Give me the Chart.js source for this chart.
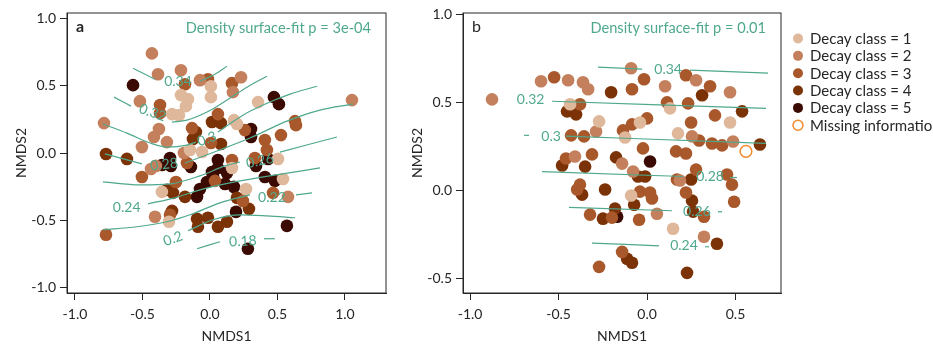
<!DOCTYPE html>
<html>
<head>
<meta charset="utf-8">
<script src="https://cdn.jsdelivr.net/npm/chart.js@4.4.1/dist/chart.umd.min.js"></script>
<style>
  html, body { margin: 0; padding: 0; background: #fff; overflow: hidden; }
  #chartA { position: absolute; left: 0; top: 0; }
  #chartB { position: absolute; left: 396px; top: 0; }
</style>
</head>
<body>
<canvas id="chartA" width="400" height="345"></canvas>
<canvas id="chartB" width="537" height="345"></canvas>
<script>
const FONT = "Lato, 'Open Sans', sans-serif";
const TEAL = "#4fa88d";
const INK = "#262626";

const classLabels = ["Decay class = 1", "Decay class = 2", "Decay class = 3", "Decay class = 4", "Decay class = 5"];
const missingLabel = "Missing information";
const classColors = ["#dfb89b", "#c4805c", "#a8582a", "#7b3206", "#3b0a02"];
const missingColor = "#f28a2e";

const xTicksA = [-1, -0.5, 0, 0.5, 1];
const yTicksA = [-1, -0.5, 0, 0.5, 1];
const xTicksB = [-1, -0.5, 0, 0.5];
const yTicksB = [-0.5, 0, 0.5, 1];

const noteA = "Density surface-fit p = 3e-04";
const noteB = "Density surface-fit p = 0.01";

// panel a, [NMDS1, NMDS2] per decay class
const a1 = [[0.007,0.496],[0.007,0.415],[-0.215,0.43],[-0.163,0.40],[-0.178,0.348],[-0.281,0.289],[-0.23,0.281],
  [0.178,0.244],[0.2,0.215],[0.356,0.378],[-0.059,0.007],[-0.148,0.022],[-0.356,-0.289],[-0.304,-0.511],
  [0.163,-0.111],[0.504,-0.044],[0.541,-0.193],[0.267,-0.267]];
const a2 = [[-0.43,0.74],[-0.385,0.585],[-0.215,0.615],[-0.074,0.541],[0.17,0.452],[0.23,0.563],[-0.519,0.385],
  [-0.785,0.222],[-0.378,0.178],[-0.415,0.119],[-0.319,0.081],[-0.504,0.044],[1.052,0.393],[-0.193,0.0],
  [-0.407,-0.474],[0.578,-0.326],[-0.437,-0.119],[-0.4,-0.096]];
const a3 = [[-0.185,0.511],[-0.015,0.548],[0.163,0.519],[-0.37,0.356],[-0.37,0.296],[-0.133,0.185],[0.059,0.289],
  [0.259,0.17],[0.63,0.237],[0.637,0.207],[0.526,0.133],[0.407,0.096],[0.422,0.022],[0.007,0.074],[-0.17,-0.074],
  [0.037,-0.207],[-0.252,-0.215],[-0.296,-0.459],[-0.77,-0.607],[0.163,-0.052],[0.333,-0.037],[0.244,-0.356],
  [0.467,-0.296],[-0.504,-0.178]];
const a4 = [[-0.104,0.156],[-0.126,0.104],[0.015,0.23],[0.081,0.222],[0.081,0.067],[-0.77,-0.007],[-0.615,-0.044],
  [-0.319,-0.274],[-0.274,-0.296],[-0.185,-0.326],[-0.281,-0.43],[-0.096,-0.489],[-0.089,-0.548],[-0.015,-0.481],
  [0.059,-0.548],[0.126,-0.511],[0.2,-0.333],[0.289,-0.415]];
const a5 = [[-0.57,0.504],[0.304,0.178],[0.304,0.119],[0.474,0.415],[0.511,0.363],[-0.356,-0.089],[-0.296,-0.037],
  [-0.141,-0.104],[0.059,-0.052],[0.059,-0.111],[0.015,-0.141],[0.022,-0.17],[0.126,-0.148],[-0.022,-0.215],
  [-0.074,-0.267],[-0.096,-0.326],[0.43,-0.044],[0.341,-0.096],[0.407,-0.178],[0.481,-0.207],[0.178,-0.252],
  [0.111,-0.23],[0.193,-0.437],[0.57,-0.541],[0.281,-0.711],[-0.289,-0.096]];

// panel b
const b1 = [[-0.435,0.489],[-0.271,0.392],[-0.04,0.386],[0.13,0.466],[0.469,0.386],[-0.124,0.301],[0.175,0.324],
  [-0.09,-0.028],[0.147,-0.216]];
const b2 = [[-0.876,0.517],[-0.599,0.619],[-0.446,0.625],[-0.362,0.614],[-0.333,0.574],[-0.09,0.693],[0.102,0.591],
  [0.277,0.625],[0.469,0.557],[-0.288,0.335],[0.254,0.307],[0.486,0.278],[-0.407,0.193],[-0.141,0.153],
  [-0.079,0.108],[0.056,-0.131],[0.322,-0.261],[0.186,0.057]];
const b3 = [[-0.525,0.642],[-0.085,0.574],[-0.017,0.631],[0.22,0.653],[0.356,0.591],[-0.379,0.489],[-0.085,0.375],
  [0.0,0.409],[0.113,0.5],[0.232,0.494],[0.249,0.386],[0.384,0.426],[-0.429,0.313],[-0.356,0.307],[-0.136,0.341],
  [-0.023,0.239],[0.294,0.284],[0.367,0.267],[0.424,0.256],[-0.458,0.182],[-0.311,0.205],[0.164,0.222],[0.22,0.21],
  [0.277,0.119],[0.452,0.091],[-0.379,0.034],[-0.395,0.006],[-0.04,-0.006],[0.017,-0.011],[0.028,-0.045],
  [-0.198,-0.153],[-0.322,-0.136],[-0.045,-0.165],[-0.141,-0.347],[-0.271,-0.432],[0.169,0.063],[0.22,-0.011],
  [0.322,-0.148],[0.48,0.034],[0.492,-0.063]];
const b4 = [[-0.203,0.557],[0.311,0.54],[-0.452,0.449],[-0.401,0.432],[0.537,0.449],[0.638,0.261],[-0.48,0.142],
  [-0.35,0.136],[-0.175,0.188],[-0.051,0.08],[-0.011,0.08],[-0.367,-0.023],[-0.237,0.006],[-0.073,-0.08],
  [-0.181,-0.102],[-0.249,-0.159],[-0.113,-0.386],[-0.085,-0.409],[0.226,-0.466],[0.395,-0.301],[0.249,0.063],
  [0.254,-0.057],[0.26,-0.119]];
const b5 = [[0.017,0.165],[-0.169,-0.148]];
const bMissing = [[0.559,0.222]];

// fitted density surface contours (segments broken where labels sit)
const aContourLines = [
  [[-0.57,0.63],[-0.407,0.548]],
  [[-0.074,0.533],[0.037,0.585],[0.126,0.644]],
  [[-0.711,0.415],[-0.585,0.348]],
  [[-0.281,0.23],[-0.17,0.244],[-0.022,0.304],[0.126,0.393],[0.274,0.489],[0.422,0.57]],
  [[-0.793,0.215],[-0.615,0.148],[-0.444,0.074],[-0.319,0.044],[-0.17,0.059],[-0.104,0.081]],
  [[0.059,0.156],[0.244,0.281],[0.393,0.356],[0.593,0.437],[0.793,0.496]],
  [[-0.778,-0.007],[-0.504,-0.081]],
  [[-0.185,-0.074],[0.052,0.015],[0.296,0.111],[0.57,0.237],[0.815,0.319],[1.059,0.363]],
  [[-0.793,-0.215],[-0.519,-0.237],[-0.296,-0.23],[-0.074,-0.17],[0.111,-0.096],[0.222,-0.067]],
  [[0.519,0.007],[0.941,0.119]],
  [[-0.459,-0.378],[-0.259,-0.333],[-0.074,-0.274],[0.148,-0.222],[0.444,-0.17],[0.815,-0.111]],
  [[-0.793,-0.57],[-0.541,-0.548],[-0.319,-0.511],[-0.148,-0.459],[0.074,-0.37],[0.296,-0.311]],
  [[0.637,-0.311],[0.756,-0.296]],
  [[-0.163,-0.578],[0.022,-0.496],[0.222,-0.459],[0.422,-0.467],[0.63,-0.481]],
  [[-0.096,-0.711],[0.074,-0.659]],
  [[0.4,-0.637],[0.481,-0.637]]
];
const aContourLabels = [
  [-0.237, 0.533, "0.34", 0], [-0.426, 0.3, "0.32", 20], [-0.022, 0.104, "0.3", -20],
  [-0.34, -0.085, "0.28", -6], [0.37, -0.059, "0.26", -12], [-0.617, -0.404, "0.24", 0],
  [0.459, -0.33, "0.22", 0], [-0.274, -0.637, "0.2", -20], [0.244, -0.656, "0.18", -3]
];

const bContourLines = [
  [[-0.277,0.699],[-0.028,0.688]],
  [[0.243,0.682],[0.684,0.665]],
  [[-0.537,0.506],[0.672,0.466]],
  [[-0.695,0.313],[-0.667,0.313]],
  [[-0.458,0.309],[0.672,0.267]],
  [[-0.593,0.108],[0.203,0.08]],
  [[0.469,0.074],[0.508,0.074]],
  [[-0.441,-0.095],[0.141,-0.114]],
  [[0.401,-0.12],[0.424,-0.12]],
  [[-0.311,-0.297],[0.068,-0.313]],
  [[0.328,-0.318],[0.35,-0.318]]
];
const bContourLabels = [
  [0.119, 0.688, "0.34", 0], [-0.658, 0.517, "0.32", 0], [-0.542, 0.307, "0.3", 0],
  [0.356, 0.08, "0.28", 0], [0.282, -0.119, "0.26", 0], [0.209, -0.313, "0.24", 0]
];

const toXY = (pts) => pts.map(([x, y]) => ({ x, y }));

function buildDatasets(groups, missing, lines) {
  const sets = groups.map((pts, i) => ({
    label: classLabels[i],
    data: toXY(pts),
    pointRadius: 6.3,
    pointBackgroundColor: classColors[i],
    pointBorderWidth: 0,
    order: 1,
    inLegend: true
  }));
  if (missing) {
    sets.push({
      label: missingLabel,
      data: toXY(missing),
      pointRadius: 5.8,
      pointBackgroundColor: "rgba(0,0,0,0)",
      pointBorderColor: missingColor,
      pointBorderWidth: 1.5,
      order: 1,
      inLegend: true,
      hollow: true
    });
  }
  lines.forEach((seg) => {
    sets.push({
      data: toXY(seg),
      showLine: true,
      pointRadius: 0,
      borderColor: TEAL,
      borderWidth: 1.2,
      cubicInterpolationMode: "monotone",
      order: 0
    });
  });
  return sets;
}

function axis(min, max, ticks, title, horizontal) {
  return {
    type: "linear",
    min: min,
    max: max,
    afterBuildTicks: (s) => { s.ticks = ticks.map((v) => ({ value: v })); },
    afterFit: (s) => { if (horizontal) s.height = 52; else s.width = 67; },
    ticks: {
      callback: (v) => v.toFixed(1),
      color: INK,
      font: { family: FONT, size: 14 },
      padding: horizontal ? 6 : 4,
      maxRotation: 0,
      autoSkip: false
    },
    grid: { drawOnChartArea: false, drawTicks: true, tickLength: 7, color: INK, lineWidth: 1 },
    border: { display: true, color: INK, width: 1 },
    title: {
      display: true,
      text: title,
      color: INK,
      font: { family: FONT, size: 14 },
      padding: horizontal ? { top: 0, bottom: 0 } : { top: 12.6, bottom: 0 }
    }
  };
}

const framePlugin = {
  id: "frame",
  afterDraw(chart) {
    const { ctx, chartArea: a } = chart;
    ctx.save();
    ctx.strokeStyle = INK;
    ctx.lineWidth = 1;
    ctx.strokeRect(a.left, a.top, a.right - a.left, a.bottom - a.top);
    ctx.restore();
  }
};

const contourLabelPlugin = {
  id: "contourLabels",
  afterDatasetsDraw(chart, args, opts) {
    const { ctx, scales } = chart;
    ctx.save();
    ctx.fillStyle = TEAL;
    ctx.font = "14px " + FONT;
    ctx.textAlign = "center";
    ctx.textBaseline = "middle";
    (opts.labels || []).forEach(([x, y, text, angle]) => {
      ctx.save();
      ctx.translate(scales.x.getPixelForValue(x), scales.y.getPixelForValue(y));
      ctx.rotate(angle * Math.PI / 180);
      ctx.fillText(text, 0, 0);
      ctx.restore();
    });
    ctx.restore();
  }
};

const panelTextPlugin = {
  id: "panelText",
  afterDraw(chart, args, opts) {
    const { ctx, chartArea: a } = chart;
    ctx.save();
    ctx.textBaseline = "middle";
    ctx.fillStyle = INK;
    ctx.textAlign = "left";
    ctx.font = (opts.bold ? "bold " : "") + "16px " + FONT;
    ctx.fillText(opts.letter, a.left + 9, a.top + 14);
    ctx.fillStyle = TEAL;
    ctx.textAlign = "right";
    ctx.font = "14.6px " + FONT;
    ctx.fillText(opts.note, a.right - 15, a.top + 15);
    ctx.restore();
  }
};

const decayLegendPlugin = {
  id: "decayLegend",
  afterDraw(chart, args, opts) {
    if (!opts.show) return;
    const { ctx, chartArea: a } = chart;
    ctx.save();
    ctx.font = "15px " + FONT;
    ctx.textBaseline = "middle";
    ctx.textAlign = "left";
    chart.data.datasets.filter((d) => d.inLegend).forEach((d, i) => {
      const y = 38.5 + i * 17.35;
      const x = a.right + 17;
      ctx.beginPath();
      ctx.arc(x, y, 5, 0, Math.PI * 2);
      if (d.hollow) {
        ctx.strokeStyle = d.pointBorderColor;
        ctx.lineWidth = 1.5;
        ctx.stroke();
      } else {
        ctx.fillStyle = d.pointBackgroundColor;
        ctx.fill();
      }
      ctx.fillStyle = INK;
      ctx.fillText(d.label, x + 12, y + 0.5);
    });
    ctx.restore();
  }
};

function makeChart(id, datasets, xr, yr, xt, yt, padRight, extra) {
  return new Chart(document.getElementById(id), {
    type: "scatter",
    data: { datasets: datasets },
    plugins: [framePlugin, contourLabelPlugin, panelTextPlugin, decayLegendPlugin],
    options: {
      responsive: false,
      animation: false,
      events: [],
      layout: { padding: { left: 0, top: 13, right: padRight, bottom: 0 } },
      scales: {
        x: axis(xr[0], xr[1], xt, "NMDS1", true),
        y: axis(yr[0], yr[1], yt, "NMDS2", false)
      },
      plugins: Object.assign({ legend: { display: false }, tooltip: { enabled: false } }, extra)
    }
  });
}

makeChart("chartA", buildDatasets([a1, a2, a3, a4, a5], null, aContourLines),
  [-1.059, 1.304], [-1.04, 1.04], xTicksA, yTicksA, 14, {
    contourLabels: { labels: aContourLabels },
    panelText: { letter: "a", note: noteA, bold: true },
    decayLegend: { show: false }
  });

makeChart("chartB", buildDatasets([b1, b2, b3, b4, b5], bMissing, bContourLines),
  [-1.04, 0.757], [-0.58, 1.006], xTicksB, yTicksB, 152, {
    contourLabels: { labels: bContourLabels },
    panelText: { letter: "b", note: noteB, bold: false },
    decayLegend: { show: true }
  });
</script>
</body>
</html>
